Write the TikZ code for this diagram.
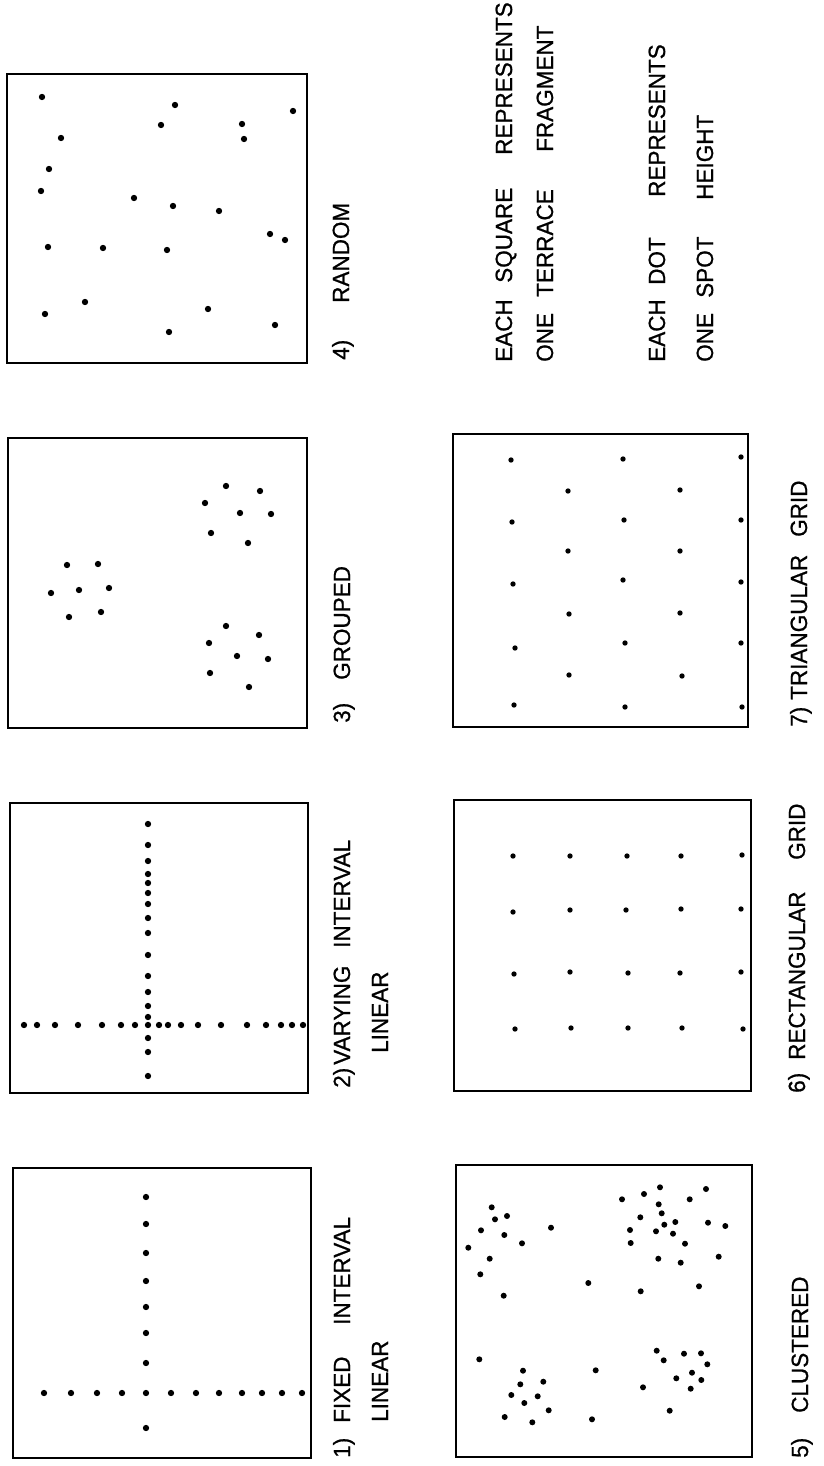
\documentclass[tikz,border=0pt]{standalone}
\usepackage{fontspec}
\setmainfont{Liberation Sans}
\newfontfamily\lblfont[FakeStretch=0.96,FakeBold=0.8]{Liberation Sans}
\begin{document}
\begin{tikzpicture}[x=0.03cm,y=-0.03cm,
  box/.style={line width=1.7pt},
  lbl/.style={rotate=90,anchor=base west,inner sep=0pt,font=\lblfont\fontsize{20}{24}\selectfont},
]
\useasboundingbox (0,0) rectangle (824,1466);
\fill[white] (0,0) rectangle (824,1466);

% ---------- boxes ----------
\draw[box] (13,1168) rectangle (311,1458);
\draw[box] (10,803) rectangle (308,1093);
\draw[box] (8,438) rectangle (307,728);
\draw[box] (7,74) rectangle (307,363);
\draw[box] (456,1165) rectangle (752,1457);
\draw[box] (454,800) rectangle (751,1091);
\draw[box] (453,434) rectangle (748,727);

% ---------- 1) fixed interval linear ----------
\foreach \y in {1197,1224,1253,1281,1307,1333,1363,1393,1428}
  \fill (146,\y) circle[radius=0.095cm];
\foreach \x in {44,71,97,122,171,196,219,242,262,282,302}
  \fill (\x,1393) circle[radius=0.095cm];

% ---------- 2) varying interval linear ----------
\foreach \y in {824,845,861,874,883,893,904,918,933,955,976,992,1006,1017,1025,1038,1052,1076}
  \fill (148,\y) circle[radius=0.095cm];
\foreach \x in {24,37,55,78,102,121,135,159,168,181,198,221,247,266,281,292,303}
  \fill (\x,1025) circle[radius=0.095cm];

% ---------- 3) grouped ----------
\foreach \x/\y in {67/565,98/564,51/593,79/590,109/588,69/617,101/612,
  226/486,260/491,205/503,240/513,271/514,211/533,248/543,
  226/626,259/635,209/643,237/656,268/659,210/673,249/687}
  \fill (\x,\y) circle[radius=0.095cm];

% ---------- 4) random ----------
\foreach \x/\y in {42/97,175/105,293/111,161/125,242/124,244/139,61/138,49/169,41/191,
  134/198,173/206,219/211,270/234,285/240,48/247,103/248,167/250,85/302,45/314,
  208/309,169/332,275/325}
  \fill (\x,\y) circle[radius=0.095cm];

% ---------- 5) clustered ----------
\foreach \x/\y in {491.7/1207.3,495/1219.3,507/1216,481/1230.3,504.3/1235,522/1243.3,
  468.3/1247.7,489.7/1258.7,480.3/1274.3,503.7/1295.7,551/1227.7,
  622/1199.3,644/1194,660/1187.3,689.7/1199.3,706/1189,658.7/1204.3,661.7/1213.3,
  640.3/1217.3,664.3/1224.7,675.3/1222,708/1222.7,725.3/1226,630/1230,656/1231.3,
  673/1233.7,630.7/1243,685/1243.7,658.3/1258.7,680.7/1262.7,718.7/1256.7,
  588.3/1283,640.7/1291.3,699/1286.3,
  479.3/1359.3,523/1370.7,543.3/1381.7,520.3/1384.3,511.3/1395,537.7/1396.3,
  524.3/1403,548.7/1410.3,504.7/1417,532.3/1422.3,595.7/1370.3,592/1419.3,
  656.7/1350.7,663.7/1360.3,684/1353.7,701/1353.3,707.3/1364.3,692/1372.7,
  676.3/1378.3,701.3/1380,690.7/1388.7,643/1387.3,669.7/1410.7}
  \fill (\x,\y) circle[radius=0.09cm];

% ---------- 6) rectangular grid ----------
\foreach \x/\y in {513/856,570/856,627/856,681/856,742/855,
  513/912,570/910,626/910,681/909,741/909,
  514/974,570/972,628/973,680/973,741/972,
  515/1029,571/1028,628/1028,682/1028,743/1029}
  \fill (\x,\y) circle[radius=0.08cm];

% ---------- 7) triangular grid ----------
\foreach \x/\y in {511/460,512/522,513/584,515/648,514/705,
  568/491,568/551,569/614,569/675,
  623/459,624/520,623/580,625/643,625/707,
  680/490,680/551,680/613,682/676,
  741/457,741/520,741/582,741/643,742/707}
  \fill (\x,\y) circle[radius=0.08cm];

% ---------- labels ----------
\node[lbl] (l1a) at (350,1458) {1)};
\node[lbl] (l1b) at (350,1423) {FIXED};
\node[lbl] (l1c) at (350,1325) {INTERVAL};
\node[lbl] (l1d) at (388,1422) {LINEAR};

\node[lbl] (l2a) at (350,1088) {2)};
\node[lbl] (l2b) at (350,1065) {VARYING};
\node[lbl] (l2c) at (350,948) {INTERVAL};
\node[lbl] (l2d) at (388,1053) {LINEAR};

\node[lbl] (l3a) at (350,723) {3)};
\node[lbl] (l3b) at (350,680) {GROUPED};

\node[lbl] (l4a) at (349,360) {4)};
\node[lbl] (l4b) at (349,303) {RANDOM};

\node[lbl] (l5a) at (808,1458) {5)};
\node[lbl] (l5b) at (808,1413) {CLUSTERED};

\node[lbl] (l6a) at (805,1093) {6)};
\node[lbl] (l6b) at (805,1060) {RECTANGULAR};
\node[lbl] (l6c) at (805,860) {GRID};

\node[lbl] (l7a) at (807,727) {7)};
\node[lbl] (l7b) at (807,700) {TRIANGULAR};
\node[lbl] (l7c) at (807,537) {GRID};

% ---------- legend ----------
\node[lbl] (g1a) at (512,362) {EACH};
\node[lbl] (g1b) at (512,283) {SQUARE};
\node[lbl] (g1c) at (512,155) {REPRESENTS};
\node[lbl] (g2a) at (553,362) {ONE};
\node[lbl] (g2b) at (553,297) {TERRACE};
\node[lbl] (g2c) at (553,152) {FRAGMENT};
\node[lbl] (g3a) at (665,362) {EACH};
\node[lbl] (g3b) at (665,285) {DOT};
\node[lbl] (g3c) at (665,197) {REPRESENTS};
\node[lbl] (g4a) at (713,362) {ONE};
\node[lbl] (g4b) at (713,298) {SPOT};
\node[lbl] (g4c) at (713,200) {HEIGHT};
\end{tikzpicture}
\end{document}
